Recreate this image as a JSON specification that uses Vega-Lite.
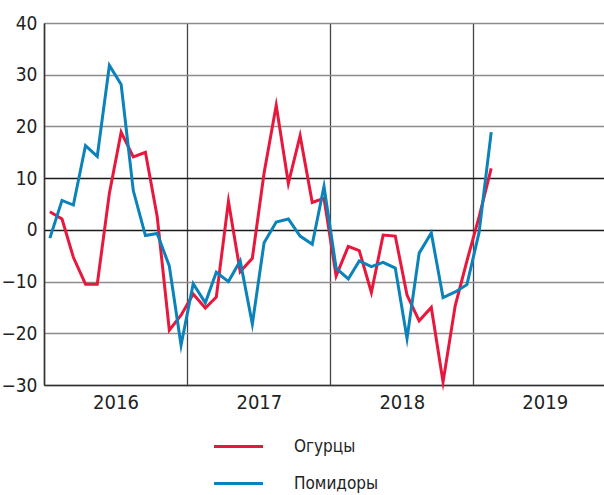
{
  "$schema": "https://vega.github.io/schema/vega-lite/v6.json",
  "width": 560,
  "height": 362,
  "autosize": {"type": "none"},
  "padding": {"left": 44, "top": 23, "right": 0, "bottom": 110},
  "background": "white",
  "config": {
    "font": "Liberation Sans Narrow, DejaVu Sans Condensed, Liberation Sans, sans-serif",
    "view": {"stroke": null},
    "axis": {"labelFont": "Liberation Sans Narrow, DejaVu Sans Condensed, Liberation Sans, sans-serif", "labelColor": "#222", "domainColor": "#333", "domainWidth": 1.5, "ticks": false, "title": null},
    "legend": {"labelFont": "Liberation Sans Narrow, DejaVu Sans Condensed, Liberation Sans, sans-serif"}
  },
  "datasets": {
    "prices": [
      {"date": "2016-01-16", "series": "Огурцы", "value": 3.5},
      {"date": "2016-02-16", "series": "Огурцы", "value": 2.1},
      {"date": "2016-03-16", "series": "Огурцы", "value": -5.3},
      {"date": "2016-04-16", "series": "Огурцы", "value": -10.5},
      {"date": "2016-05-16", "series": "Огурцы", "value": -10.5},
      {"date": "2016-06-16", "series": "Огурцы", "value": 7.1},
      {"date": "2016-07-16", "series": "Огурцы", "value": 18.9},
      {"date": "2016-08-16", "series": "Огурцы", "value": 14.1},
      {"date": "2016-09-16", "series": "Огурцы", "value": 15.0},
      {"date": "2016-10-16", "series": "Огурцы", "value": 2.6},
      {"date": "2016-11-16", "series": "Огурцы", "value": -19.4},
      {"date": "2016-12-16", "series": "Огурцы", "value": -16.5},
      {"date": "2017-01-16", "series": "Огурцы", "value": -12.4},
      {"date": "2017-02-16", "series": "Огурцы", "value": -15.1},
      {"date": "2017-03-16", "series": "Огурцы", "value": -13.0},
      {"date": "2017-04-16", "series": "Огурцы", "value": 5.5},
      {"date": "2017-05-16", "series": "Огурцы", "value": -8.1},
      {"date": "2017-06-16", "series": "Огурцы", "value": -5.5},
      {"date": "2017-07-16", "series": "Огурцы", "value": 11.0},
      {"date": "2017-08-16", "series": "Огурцы", "value": 24.1},
      {"date": "2017-09-16", "series": "Огурцы", "value": 9.0},
      {"date": "2017-10-16", "series": "Огурцы", "value": 18.2},
      {"date": "2017-11-16", "series": "Огурцы", "value": 5.3},
      {"date": "2017-12-16", "series": "Огурцы", "value": 6.1},
      {"date": "2018-01-16", "series": "Огурцы", "value": -8.9},
      {"date": "2018-02-16", "series": "Огурцы", "value": -3.2},
      {"date": "2018-03-16", "series": "Огурцы", "value": -4.0},
      {"date": "2018-04-16", "series": "Огурцы", "value": -12.1},
      {"date": "2018-05-16", "series": "Огурцы", "value": -1.0},
      {"date": "2018-06-16", "series": "Огурцы", "value": -1.2},
      {"date": "2018-07-16", "series": "Огурцы", "value": -12.6},
      {"date": "2018-08-16", "series": "Огурцы", "value": -17.6},
      {"date": "2018-09-16", "series": "Огурцы", "value": -15.0},
      {"date": "2018-10-16", "series": "Огурцы", "value": -29.4},
      {"date": "2018-11-16", "series": "Огурцы", "value": -14.7},
      {"date": "2018-12-16", "series": "Огурцы", "value": -6.0},
      {"date": "2019-01-16", "series": "Огурцы", "value": 2.5},
      {"date": "2019-02-16", "series": "Огурцы", "value": 11.9},
      {"date": "2016-01-16", "series": "Помидоры", "value": -1.6},
      {"date": "2016-02-16", "series": "Помидоры", "value": 5.7},
      {"date": "2016-03-16", "series": "Помидоры", "value": 4.8},
      {"date": "2016-04-16", "series": "Помидоры", "value": 16.3},
      {"date": "2016-05-16", "series": "Помидоры", "value": 14.2},
      {"date": "2016-06-16", "series": "Помидоры", "value": 31.8},
      {"date": "2016-07-16", "series": "Помидоры", "value": 28.1},
      {"date": "2016-08-16", "series": "Помидоры", "value": 7.6},
      {"date": "2016-09-16", "series": "Помидоры", "value": -1.1},
      {"date": "2016-10-16", "series": "Помидоры", "value": -0.7},
      {"date": "2016-11-16", "series": "Помидоры", "value": -7.0},
      {"date": "2016-12-16", "series": "Помидоры", "value": -22.3},
      {"date": "2017-01-16", "series": "Помидоры", "value": -10.4},
      {"date": "2017-02-16", "series": "Помидоры", "value": -14.1},
      {"date": "2017-03-16", "series": "Помидоры", "value": -8.2},
      {"date": "2017-04-16", "series": "Помидоры", "value": -10.0},
      {"date": "2017-05-16", "series": "Помидоры", "value": -6.0},
      {"date": "2017-06-16", "series": "Помидоры", "value": -18.2},
      {"date": "2017-07-16", "series": "Помидоры", "value": -2.5},
      {"date": "2017-08-16", "series": "Помидоры", "value": 1.5},
      {"date": "2017-09-16", "series": "Помидоры", "value": 2.1},
      {"date": "2017-10-16", "series": "Помидоры", "value": -1.2},
      {"date": "2017-11-16", "series": "Помидоры", "value": -2.8},
      {"date": "2017-12-16", "series": "Помидоры", "value": 8.4},
      {"date": "2018-01-16", "series": "Помидоры", "value": -7.4},
      {"date": "2018-02-16", "series": "Помидоры", "value": -9.5},
      {"date": "2018-03-16", "series": "Помидоры", "value": -6.0},
      {"date": "2018-04-16", "series": "Помидоры", "value": -7.1},
      {"date": "2018-05-16", "series": "Помидоры", "value": -6.3},
      {"date": "2018-06-16", "series": "Помидоры", "value": -7.4},
      {"date": "2018-07-16", "series": "Помидоры", "value": -21.0},
      {"date": "2018-08-16", "series": "Помидоры", "value": -4.5},
      {"date": "2018-09-16", "series": "Помидоры", "value": -0.6},
      {"date": "2018-10-16", "series": "Помидоры", "value": -13.1},
      {"date": "2018-11-16", "series": "Помидоры", "value": -12.0},
      {"date": "2018-12-16", "series": "Помидоры", "value": -10.6},
      {"date": "2019-01-16", "series": "Помидоры", "value": -0.5},
      {"date": "2019-02-16", "series": "Помидоры", "value": 18.9}
    ]
  },
  "data": {"name": "prices"},
  "mark": {"type": "line", "strokeWidth": 3, "strokeJoin": "miter", "strokeMiterLimit": 10},
  "encoding": {
    "x": {
      "field": "date",
      "type": "temporal",
      "scale": {"type": "utc", "domain": [{"year": 2016, "month": 1, "date": 1, "utc": true}, {"year": 2019, "month": 12, "date": 1, "utc": true}]},
      "axis": {
        "values": [
          {"year": 2016, "month": 1, "date": 1, "utc": true},
          {"year": 2017, "month": 1, "date": 1, "utc": true},
          {"year": 2018, "month": 1, "date": 1, "utc": true},
          {"year": 2019, "month": 1, "date": 1, "utc": true}
        ],
        "format": "%Y",
        "labelOffset": 71.5,
        "labelAlign": "center",
        "labelFontSize": 20,
        "labelPadding": 7,
        "labelBound": false,
        "labelOverlap": false,
        "labelFlush": false,
        "grid": true,
        "gridColor": "#444",
        "gridWidth": 1.3,
        "domainColor": "#333",
        "zindex": 0
      }
    },
    "y": {
      "field": "value",
      "type": "quantitative",
      "scale": {"domain": [-30, 40], "nice": false},
      "axis": {
        "values": [-30, -20, -10, 0, 10, 20, 30, 40],
        "labelFontSize": 19,
        "labelPadding": 7,
        "grid": true,
        "gridColor": {"condition": {"test": "datum.value == 0 || datum.value == 10", "value": "#1a1a1a"}, "value": "#8c8c8c"},
        "gridWidth": 1.3,
        "domainColor": "#333",
        "zindex": 0
      }
    },
    "color": {
      "field": "series",
      "type": "nominal",
      "scale": {"domain": ["Огурцы", "Помидоры"], "range": ["#e8173c", "#0a82ba"]},
      "legend": {
        "title": null,
        "orient": "none",
        "legendX": 183,
        "legendY": 412,
        "direction": "vertical",
        "symbolType": "M-2.45,0H2.45",
        "symbolSize": 400,
        "symbolStrokeWidth": 3,
        "symbolFillColor": "transparent",
        "labelFontSize": 17,
        "labelColor": "#222",
        "labelOffset": 44,
        "rowPadding": 17,
        "padding": 0
      }
    }
  }
}
